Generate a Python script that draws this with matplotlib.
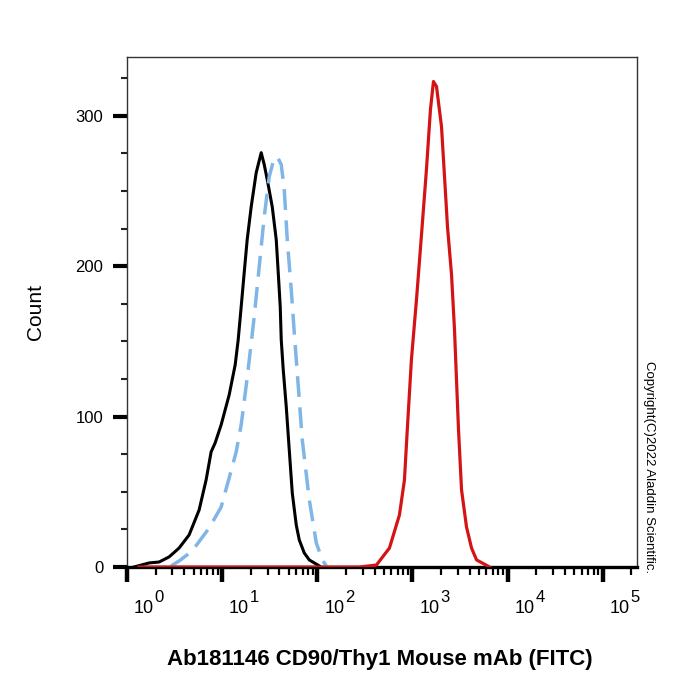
import matplotlib
matplotlib.use("Agg")
import matplotlib.pyplot as plt
from matplotlib.ticker import FixedLocator, LogLocator, MultipleLocator, NullFormatter
import numpy as np

plt.rcParams["font.family"] = ["Liberation Sans", "DejaVu Sans"]

# isotype control (black, solid)
ctrl_x = [1.185, 1.705, 2.173, 2.768, 3.527, 4.495, 5.728, 6.785, 7.658, 8.442, 9.76,
          11.85, 13.71, 14.74, 15.85, 17.05, 18.33, 20.20, 22.80, 25.73, 27.68, 29.77,
          33.60, 37.02, 38.86, 40.78, 41.79, 43.86, 47.18, 50.74, 54.57, 60.10, 64.65,
          72.98, 82.39, 105]
ctrl_y = [0, 2.7, 3.3, 6.7, 12.6, 21.3, 37.9, 57.9, 76.5, 82.5, 94.5,
          114.4, 134.4, 151.0, 173.0, 195.6, 217.6, 239.5, 262.1, 275.4, 267.5, 257.5,
          239.5, 217.6, 195.6, 173.0, 151.0, 131.1, 106.5, 77.8, 49.2, 27.9, 18.0,
          9.3, 4.7, 0.7]

# unstained control (light blue, dashed)
blank_x = [2.905, 3.527, 4.833, 7.298, 9.76, 11.85, 14.04, 15.85, 18.33, 21.72, 24.52,
           27.68, 31.24, 34.43, 37.93, 41.79, 44.96, 48.33, 53.25, 57.28, 61.6, 69.5,
           82.4, 97.6, 112.9, 124.4]
blank_y = [0.7, 4.0, 10.6, 25.9, 39.9, 59.2, 76.5, 94.5, 125.7, 166.3, 199.6,
           232.9, 259.5, 269.5, 272.8, 267.5, 250.8, 217.6, 184.3, 155.7, 129.1, 84.5,
           44.6, 16.0, 4.7, 0.7]

# CD90/Thy1 stained (red)
stain_x = [1.34, 277, 418, 573, 730, 824, 886, 975, 1102, 1245, 1403, 1546, 1663,
           1790, 2020, 2173, 2335, 2575, 2767, 2904, 3049, 3281, 3700, 4178, 4717, 6471]
stain_y = [0, 0, 1.3, 12.6, 34.6, 57.9, 93.1, 137.7, 177.6, 220.9, 264.1, 304.1, 322.7,
           319.4, 292.7, 259.5, 226.2, 194.3, 157.7, 124.4, 91.2, 51.2, 26.6, 12.6, 4.7, 0]

x_decades = [0, 1, 2, 3, 4, 5]
y_major = [0, 100, 200, 300]

fig = plt.figure(figsize=(7, 7), dpi=100)
ax = fig.add_axes([127 / 700, 1 - 567 / 700, 510 / 700, 510 / 700])

ax.plot(ctrl_x, ctrl_y, color="black", lw=2.2, zorder=3, solid_joinstyle="round")
ax.plot(blank_x, blank_y, color="#80b6e6", lw=2.5, dashes=(6, 3), zorder=3)
ax.plot(stain_x, stain_y, color="#d41414", lw=2.3, zorder=3, solid_joinstyle="round")

ax.set_xscale("log")
ax.set_xlim(1, 10 ** 5.36)
ax.set_ylim(0, 339)

ax.xaxis.set_major_locator(FixedLocator([10.0 ** d for d in x_decades]))
ax.xaxis.set_minor_locator(LogLocator(base=10, subs=np.arange(2, 10), numticks=20))
ax.xaxis.set_major_formatter(NullFormatter())
ax.xaxis.set_minor_formatter(NullFormatter())
ax.yaxis.set_major_locator(FixedLocator(y_major))
ax.yaxis.set_minor_locator(MultipleLocator(25))

ax.tick_params(axis="x", which="major", direction="out", length=11, width=3.2, color="black")
ax.tick_params(axis="x", which="minor", direction="out", length=5.5, width=1.6, color="black")
ax.tick_params(axis="y", which="major", direction="out", length=10, width=3.0,
               labelsize=12, pad=7, color="black")
ax.tick_params(axis="y", which="minor", direction="out", length=4.5, width=1.5, color="#222222")

# decade labels: "10" with a large raised exponent, sitting right of the tick
for d in x_decades:
    ax.annotate("10", xy=(10.0 ** d, 0), xycoords=("data", "axes fraction"),
                xytext=(5, -33), textcoords="offset points",
                ha="left", va="baseline", fontsize=13)
    ax.annotate(str(d), xy=(10.0 ** d, 0), xycoords=("data", "axes fraction"),
                xytext=(20, -25), textcoords="offset points",
                ha="left", va="baseline", fontsize=12)

for side in ["left", "top", "right"]:
    ax.spines[side].set_color("#333333")
    ax.spines[side].set_linewidth(1.0)
ax.spines["bottom"].set_color("black")
ax.spines["bottom"].set_linewidth(2.4)

ax.set_ylabel("Count", fontsize=15)
ax.yaxis.set_label_coords(-0.161, 0.5)

fig.text(380 / 700, 1 - 660 / 700, "Ab181146 CD90/Thy1 Mouse mAb (FITC)",
         fontsize=16, fontweight="bold", ha="center", va="center")
fig.text(649 / 700, 1 - 467 / 700, "Copyright(C)2022 Aladdin Scientific.",
         fontsize=9.5, rotation=270, ha="center", va="center")

fig.savefig("out.png", dpi=100, facecolor="white")
